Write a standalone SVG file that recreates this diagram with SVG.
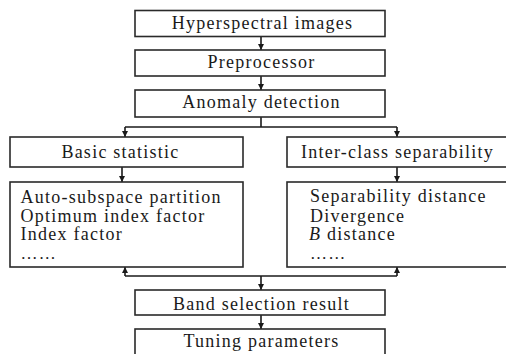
<svg xmlns="http://www.w3.org/2000/svg" width="506" height="354" viewBox="0 0 506 354">
  <defs>
    <marker id="arrow" viewBox="0 0 10 10" refX="10" refY="5" markerWidth="6" markerHeight="7" markerUnits="userSpaceOnUse" orient="auto">
      <path d="M0,0 L10,5 L0,10 z" fill="#1a1a1a"/>
    </marker>
    <style>
      .box { fill: #ffffff; stroke: #2a2a2a; stroke-width: 1.6; }
      .lbl { font-family: "Liberation Serif", "Times New Roman", serif; font-size: 18px; fill: #1a1a1a; letter-spacing: 1.25px; }
      .dots { font-family: "Liberation Serif", "Times New Roman", serif; font-size: 17px; fill: #1a1a1a; letter-spacing: 1.2px; }
      .mid { text-anchor: middle; }
      .wire { fill: none; stroke: #1a1a1a; stroke-width: 1.6; }
    </style>
  </defs>
  <rect width="506" height="354" fill="#ffffff"/>

  <g id="connectors">
    <line class="wire" x1="261" y1="37" x2="261" y2="50" marker-end="url(#arrow)"/>
    <line class="wire" x1="261" y1="76" x2="261" y2="90" marker-end="url(#arrow)"/>
    <polyline class="wire" points="261,117 261,127"/>
    <polyline class="wire" points="125,127 397,127"/>
    <path class="wire" d="M125,127 L125,137" marker-end="url(#arrow)"/>
    <path class="wire" d="M397,127 L397,137" marker-end="url(#arrow)"/>
    <line class="wire" x1="122" y1="167" x2="122" y2="182" marker-end="url(#arrow)"/>
    <line class="wire" x1="397" y1="167" x2="397" y2="182" marker-end="url(#arrow)"/>
    <polyline class="wire" points="125,276 397,276"/>
    <path class="wire" d="M125,276 L125,267" marker-end="url(#arrow)"/>
    <path class="wire" d="M397,276 L397,267" marker-end="url(#arrow)"/>
    <line class="wire" x1="261" y1="276" x2="261" y2="290" marker-end="url(#arrow)"/>
    <line class="wire" x1="261" y1="315" x2="261" y2="329" marker-end="url(#arrow)"/>
  </g>

  <g id="hyperspectral">
    <rect class="box" x="135" y="10.5" width="250" height="26"/>
    <text class="lbl mid" x="262.5" y="29">Hyperspectral images</text>
  </g>
  <g id="preprocessor">
    <rect class="box" x="135" y="50" width="250" height="26"/>
    <text class="lbl mid" x="261.5" y="68">Preprocessor</text>
  </g>
  <g id="anomaly">
    <rect class="box" x="135" y="90" width="250" height="27"/>
    <text class="lbl mid" x="261.5" y="108">Anomaly detection</text>
  </g>
  <g id="basic-statistic">
    <rect class="box" x="10" y="137" width="233" height="30"/>
    <text class="lbl mid" x="120.5" y="158">Basic statistic</text>
  </g>
  <g id="inter-class">
    <rect class="box" x="287" y="137" width="222" height="30"/>
    <text class="lbl" x="301" y="158">Inter-class separability</text>
  </g>
  <g id="basic-methods">
    <rect class="box" x="10" y="182" width="233" height="85"/>
    <text class="lbl" x="20.5" y="203">Auto-subspace partition</text>
    <text class="lbl" x="20.5" y="221.5">Optimum index factor</text>
    <text class="lbl" x="20.5" y="240">Index factor</text>
    <text class="dots" x="20.5" y="258.5">……</text>
  </g>
  <g id="separability-methods">
    <rect class="box" x="287" y="182" width="222" height="85"/>
    <text class="lbl" x="310" y="202">Separability distance</text>
    <text class="lbl" x="310" y="221.5">Divergence</text>
    <text class="lbl" x="309" y="240"><tspan font-style="italic">B</tspan> distance</text>
    <text class="dots" x="310" y="258.5">……</text>
  </g>
  <g id="band-selection">
    <rect class="box" x="135" y="290" width="250" height="25"/>
    <text class="lbl mid" x="261.5" y="310">Band selection result</text>
  </g>
  <g id="tuning">
    <rect class="box" x="135" y="329" width="250" height="30"/>
    <text class="lbl mid" x="261.5" y="347">Tuning parameters</text>
  </g>
</svg>
